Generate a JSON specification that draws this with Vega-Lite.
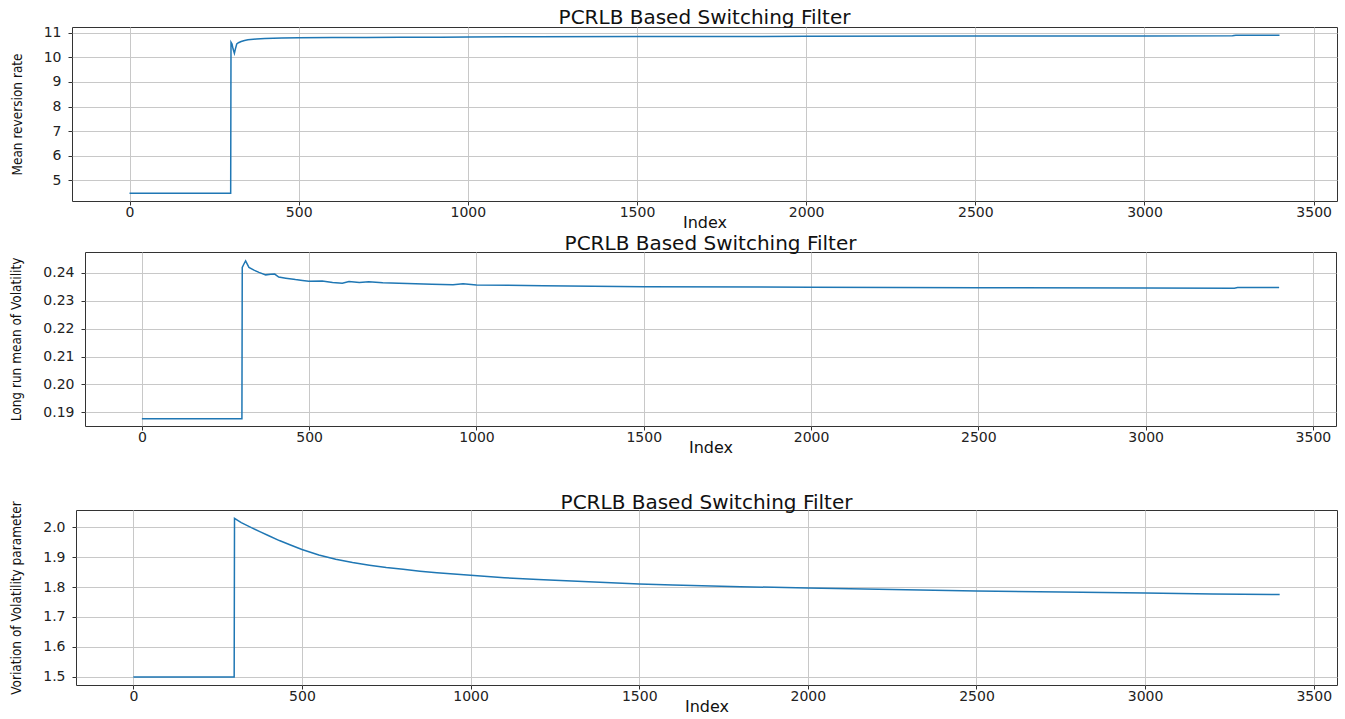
{
  "$schema": "https://vega.github.io/schema/vega-lite/v6.json",
  "padding": {"left": 8, "top": 7, "right": 5, "bottom": 5},
  "background": "white",
  "datasets": {
    "p1": [
      {"Index": 0, "v": 4.47}, {"Index": 299, "v": 4.47}, {"Index": 300, "v": 10.62}, {"Index": 303, "v": 10.55},
      {"Index": 306, "v": 10.35}, {"Index": 310, "v": 10.17}, {"Index": 313, "v": 10.35}, {"Index": 317, "v": 10.55},
      {"Index": 322, "v": 10.6}, {"Index": 330, "v": 10.65}, {"Index": 340, "v": 10.69}, {"Index": 350, "v": 10.72},
      {"Index": 375, "v": 10.75}, {"Index": 400, "v": 10.77}, {"Index": 450, "v": 10.79}, {"Index": 500, "v": 10.8},
      {"Index": 600, "v": 10.81}, {"Index": 700, "v": 10.815}, {"Index": 800, "v": 10.82}, {"Index": 920, "v": 10.82},
      {"Index": 1000, "v": 10.835}, {"Index": 1200, "v": 10.84}, {"Index": 1500, "v": 10.85}, {"Index": 2000, "v": 10.86},
      {"Index": 2500, "v": 10.87}, {"Index": 3000, "v": 10.875}, {"Index": 3260, "v": 10.88}, {"Index": 3270, "v": 10.905},
      {"Index": 3399, "v": 10.905}
    ],
    "p2": [
      {"Index": 0, "v": 0.1877}, {"Index": 299, "v": 0.1877}, {"Index": 300, "v": 0.2420}, {"Index": 305, "v": 0.2432},
      {"Index": 310, "v": 0.2443}, {"Index": 320, "v": 0.2420}, {"Index": 335, "v": 0.2410}, {"Index": 350, "v": 0.2402},
      {"Index": 370, "v": 0.2393}, {"Index": 385, "v": 0.2395}, {"Index": 397, "v": 0.2396}, {"Index": 409, "v": 0.2385},
      {"Index": 430, "v": 0.2381}, {"Index": 459, "v": 0.2376}, {"Index": 480, "v": 0.2373}, {"Index": 499, "v": 0.2370},
      {"Index": 539, "v": 0.2371}, {"Index": 570, "v": 0.2366}, {"Index": 599, "v": 0.2363}, {"Index": 619, "v": 0.2369},
      {"Index": 650, "v": 0.2366}, {"Index": 678, "v": 0.2368}, {"Index": 720, "v": 0.2365}, {"Index": 768, "v": 0.2363},
      {"Index": 867, "v": 0.2359}, {"Index": 930, "v": 0.2358}, {"Index": 960, "v": 0.2361}, {"Index": 1000, "v": 0.2357},
      {"Index": 1200, "v": 0.2354}, {"Index": 1500, "v": 0.2350}, {"Index": 2000, "v": 0.2349}, {"Index": 2500, "v": 0.2347},
      {"Index": 3000, "v": 0.2346}, {"Index": 3265, "v": 0.2345}, {"Index": 3275, "v": 0.2348}, {"Index": 3399, "v": 0.2348}
    ],
    "p3": [
      {"Index": 0, "v": 1.5}, {"Index": 299, "v": 1.5}, {"Index": 300, "v": 2.029}, {"Index": 320, "v": 2.015},
      {"Index": 350, "v": 1.998}, {"Index": 375, "v": 1.985}, {"Index": 400, "v": 1.972}, {"Index": 433, "v": 1.955},
      {"Index": 466, "v": 1.94}, {"Index": 500, "v": 1.925}, {"Index": 550, "v": 1.907}, {"Index": 600, "v": 1.893},
      {"Index": 650, "v": 1.882}, {"Index": 700, "v": 1.873}, {"Index": 750, "v": 1.865}, {"Index": 800, "v": 1.859},
      {"Index": 850, "v": 1.853}, {"Index": 900, "v": 1.848}, {"Index": 1000, "v": 1.839}, {"Index": 1100, "v": 1.831},
      {"Index": 1200, "v": 1.825}, {"Index": 1300, "v": 1.82}, {"Index": 1400, "v": 1.815}, {"Index": 1500, "v": 1.81},
      {"Index": 1600, "v": 1.807}, {"Index": 1800, "v": 1.801}, {"Index": 2000, "v": 1.797}, {"Index": 2250, "v": 1.792},
      {"Index": 2500, "v": 1.787}, {"Index": 2750, "v": 1.783}, {"Index": 3000, "v": 1.78}, {"Index": 3200, "v": 1.777},
      {"Index": 3399, "v": 1.775}
    ]
  },
  "config": {
    "view": {"stroke": "#333333", "strokeWidth": 1},
    "axis": {
      "grid": true, "gridColor": "#c8c8c8", "gridWidth": 1,
      "domain": false,
      "ticks": true, "tickSize": 4, "tickColor": "#333333", "tickWidth": 1,
      "labelFont": "DejaVu Sans", "labelFontSize": 14, "labelColor": "#222222",
      "titleFont": "DejaVu Sans", "titleFontWeight": "normal", "titleColor": "#111111"
    },
    "axisX": {"labelPadding": 0, "titleFontSize": 16, "titlePadding": -5},
    "axisY": {"labelPadding": 7, "titleFont": "DejaVu Sans Condensed", "titleFontSize": 13.5, "titlePadding": 19},
    "title": {"font": "DejaVu Sans", "fontSize": 20, "fontWeight": "normal", "color": "#111111", "offset": -2},
    "line": {"color": "#1f77b4", "strokeWidth": 1.5}
  },
  "columns": 1,
  "align": "none",
  "bounds": "full",
  "spacing": 2,
  "concat": [
    {
      "spacing": 0,
      "hconcat": [
        {"width": 1, "height": 174, "view": {"stroke": null}, "data": {"values": []}, "mark": {"type": "point", "opacity": 0}, "encoding": {}},
        {
          "width": 1265, "height": 174,
          "title": "PCRLB Based Switching Filter",
          "data": {"name": "p1"},
          "mark": {"type": "line"},
          "encoding": {
            "x": {"field": "Index", "type": "quantitative", "scale": {"domain": [-170, 3569], "nice": false, "zero": false},
                  "axis": {"title": "Index", "values": [0, 500, 1000, 1500, 2000, 2500, 3000, 3500], "format": "d"}},
            "y": {"field": "v", "type": "quantitative", "scale": {"domain": [4.15, 11.24], "nice": false, "zero": false},
                  "axis": {"title": "Mean reversion rate", "values": [5, 6, 7, 8, 9, 10, 11], "format": "d"}}
          }
        }
      ]
    },
    {
      "spacing": 0,
      "hconcat": [
        {"width": 1, "height": 174, "view": {"stroke": null}, "data": {"values": []}, "mark": {"type": "point", "opacity": 0}, "encoding": {}},
        {
          "width": 1251, "height": 174,
          "title": "PCRLB Based Switching Filter",
          "data": {"name": "p2"},
          "mark": {"type": "line"},
          "encoding": {
            "x": {"field": "Index", "type": "quantitative", "scale": {"domain": [-170, 3569], "nice": false, "zero": false},
                  "axis": {"title": "Index", "values": [0, 500, 1000, 1500, 2000, 2500, 3000, 3500], "format": "d"}},
            "y": {"field": "v", "type": "quantitative", "scale": {"domain": [0.1851, 0.2475], "nice": false, "zero": false},
                  "axis": {"title": "Long run mean of Volatility", "values": [0.19, 0.2, 0.21, 0.22, 0.23, 0.24], "format": ".2f"}}
          }
        }
      ]
    },
    {"width": 1, "height": 32, "view": {"stroke": null}, "data": {"values": []}, "mark": {"type": "point", "opacity": 0}, "encoding": {}},
    {
      "spacing": 0,
      "hconcat": [
        {"width": 1, "height": 175, "view": {"stroke": null}, "data": {"values": []}, "mark": {"type": "point", "opacity": 0}, "encoding": {}},
        {
          "width": 1261, "height": 175,
          "title": {"text": "PCRLB Based Switching Filter", "offset": -12},
          "data": {"name": "p3"},
          "mark": {"type": "line"},
          "encoding": {
            "x": {"field": "Index", "type": "quantitative", "scale": {"domain": [-170, 3569], "nice": false, "zero": false},
                  "axis": {"title": "Index", "values": [0, 500, 1000, 1500, 2000, 2500, 3000, 3500], "format": "d"}},
            "y": {"field": "v", "type": "quantitative", "scale": {"domain": [1.473, 2.057], "nice": false, "zero": false},
                  "axis": {"title": "Voriation of Volatility parameter", "values": [1.5, 1.6, 1.7, 1.8, 1.9, 2.0], "format": ".1f"}}
          }
        }
      ]
    }
  ]
}
